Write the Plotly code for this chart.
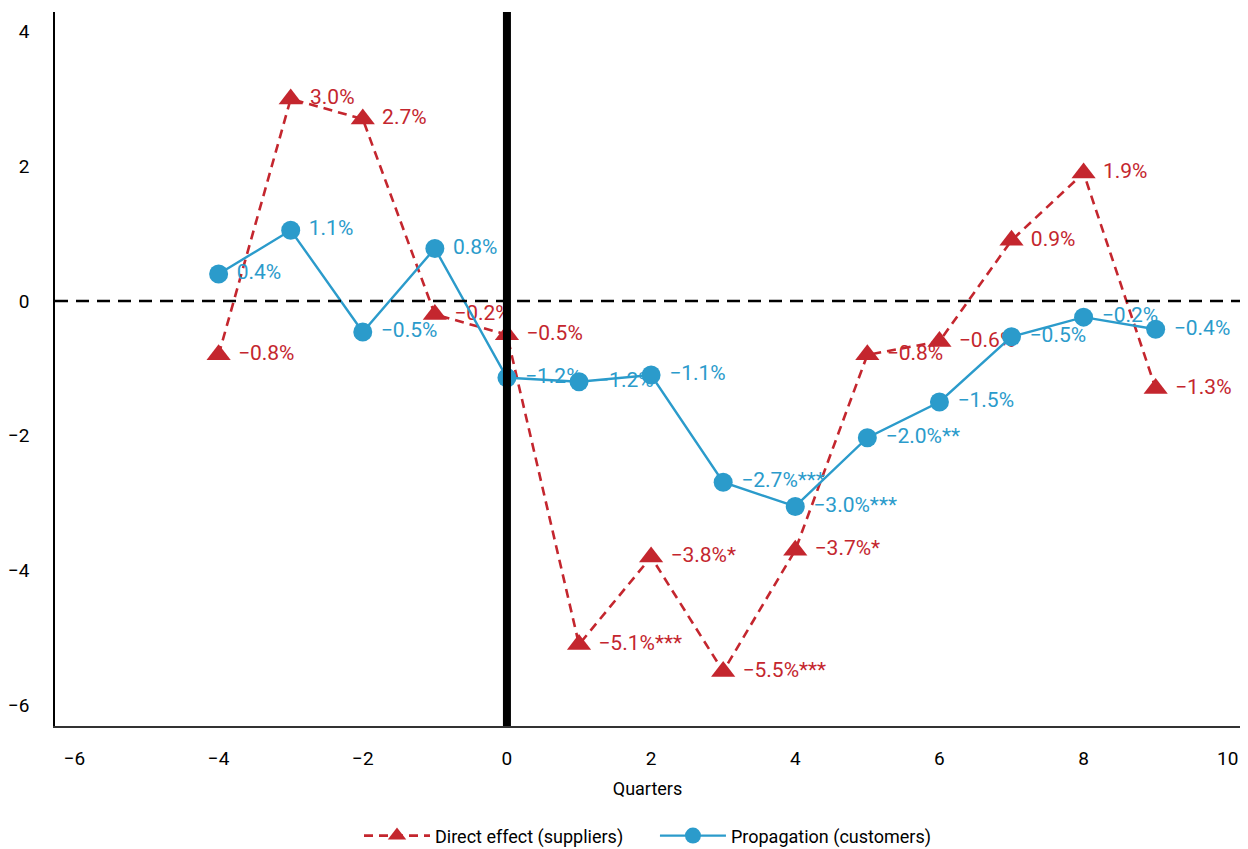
import plotly.graph_objects as go

quarters = [-4, -3, -2, -1, 0, 1, 2, 3, 4, 5, 6, 7, 8, 9]
suppliers = [-0.8, 3.0, 2.7, -0.2, -0.5, -5.1, -3.8, -5.5, -3.7, -0.8, -0.6, 0.9, 1.9, -1.3]
supplier_labels = ["−0.8%", "3.0%", "2.7%", "−0.2%", "−0.5%", "−5.1%***", "−3.8%*", "−5.5%***",
                   "−3.7%*", "−0.8%", "−0.6%", "0.9%", "1.9%", "−1.3%"]
customers = [0.4, 1.05, -0.46, 0.78, -1.14, -1.2, -1.1, -2.69, -3.05, -2.03, -1.5, -0.53, -0.24, -0.42]
customer_labels = ["0.4%", "1.1%", "−0.5%", "0.8%", "−1.2%", "−1.2%", "−1.1%", "−2.7%***",
                   "−3.0%***", "−2.0%**", "−1.5%", "−0.5%", "−0.2%", "−0.4%"]

RED = "#C4262E"
BLUE = "#2B9BCB"
FONT = "Roboto, sans-serif"
PAD = "\u00a0"

fig = go.Figure()
fig.add_trace(go.Scatter(
    x=quarters, y=suppliers, mode="lines+markers+text",
    name="Direct effect (suppliers)" + "\u00a0" * 6,
    line=dict(color=RED, width=2.6, dash="9px,6px"),
    marker=dict(symbol="triangle-up", size=21, color=RED),
    text=[PAD + t for t in supplier_labels], textposition="middle right",
    textfont=dict(color=RED, size=21, family=FONT),
))
fig.add_trace(go.Scatter(
    x=quarters, y=customers, mode="lines+markers+text",
    name="Propagation (customers)",
    line=dict(color=BLUE, width=2.4),
    marker=dict(symbol="circle", size=19, color=BLUE),
    text=[PAD + t for t in customer_labels], textposition="middle right",
    textfont=dict(color=BLUE, size=21, family=FONT),
))

fig.add_shape(type="line", xref="paper", yref="y", x0=0, x1=1, y0=0, y1=0,
              line=dict(color="black", width=2.6, dash="13px,8px"), layer="above")
fig.add_shape(type="line", xref="x", yref="paper", x0=0, x1=0, y0=0, y1=1,
              line=dict(color="black", width=8), layer="above")

fig.update_layout(
    width=1232, height=841,
    margin=dict(l=47, r=0, t=4, b=123, autoexpand=False),
    plot_bgcolor="white", paper_bgcolor="white",
    font=dict(family=FONT, size=18, color="black"),
    showlegend=True,
    legend=dict(orientation="h", x=0.5, xanchor="center", y=-0.128, yanchor="top",
                font=dict(size=18), itemwidth=66),
    xaxis=dict(range=[-6.27, 10.17], tickvals=[-6, -4, -2, 0, 2, 4, 6, 8, 10],
               ticktext=["−6", "−4", "−2", "0", "2", "4", "6", "8", "10"],
               showgrid=False, zeroline=False, showline=True, linecolor="#333", linewidth=1.5,
               ticks="", ticklabelstandoff=14, automargin=False, tickfont=dict(size=19),
               title=dict(text="Quarters", font=dict(size=18), standoff=14)),
    yaxis=dict(range=[-6.31, 4.29], tickvals=[-6, -4, -2, 0, 2, 4],
               ticktext=["−6", "−4", "−2", "0", "2", "4"],
               showgrid=False, zeroline=False, showline=True, linecolor="black", linewidth=1.5,
               ticks="", ticklabelstandoff=20, automargin=False, tickfont=dict(size=19)),
)

fig.write_html("out.html")
